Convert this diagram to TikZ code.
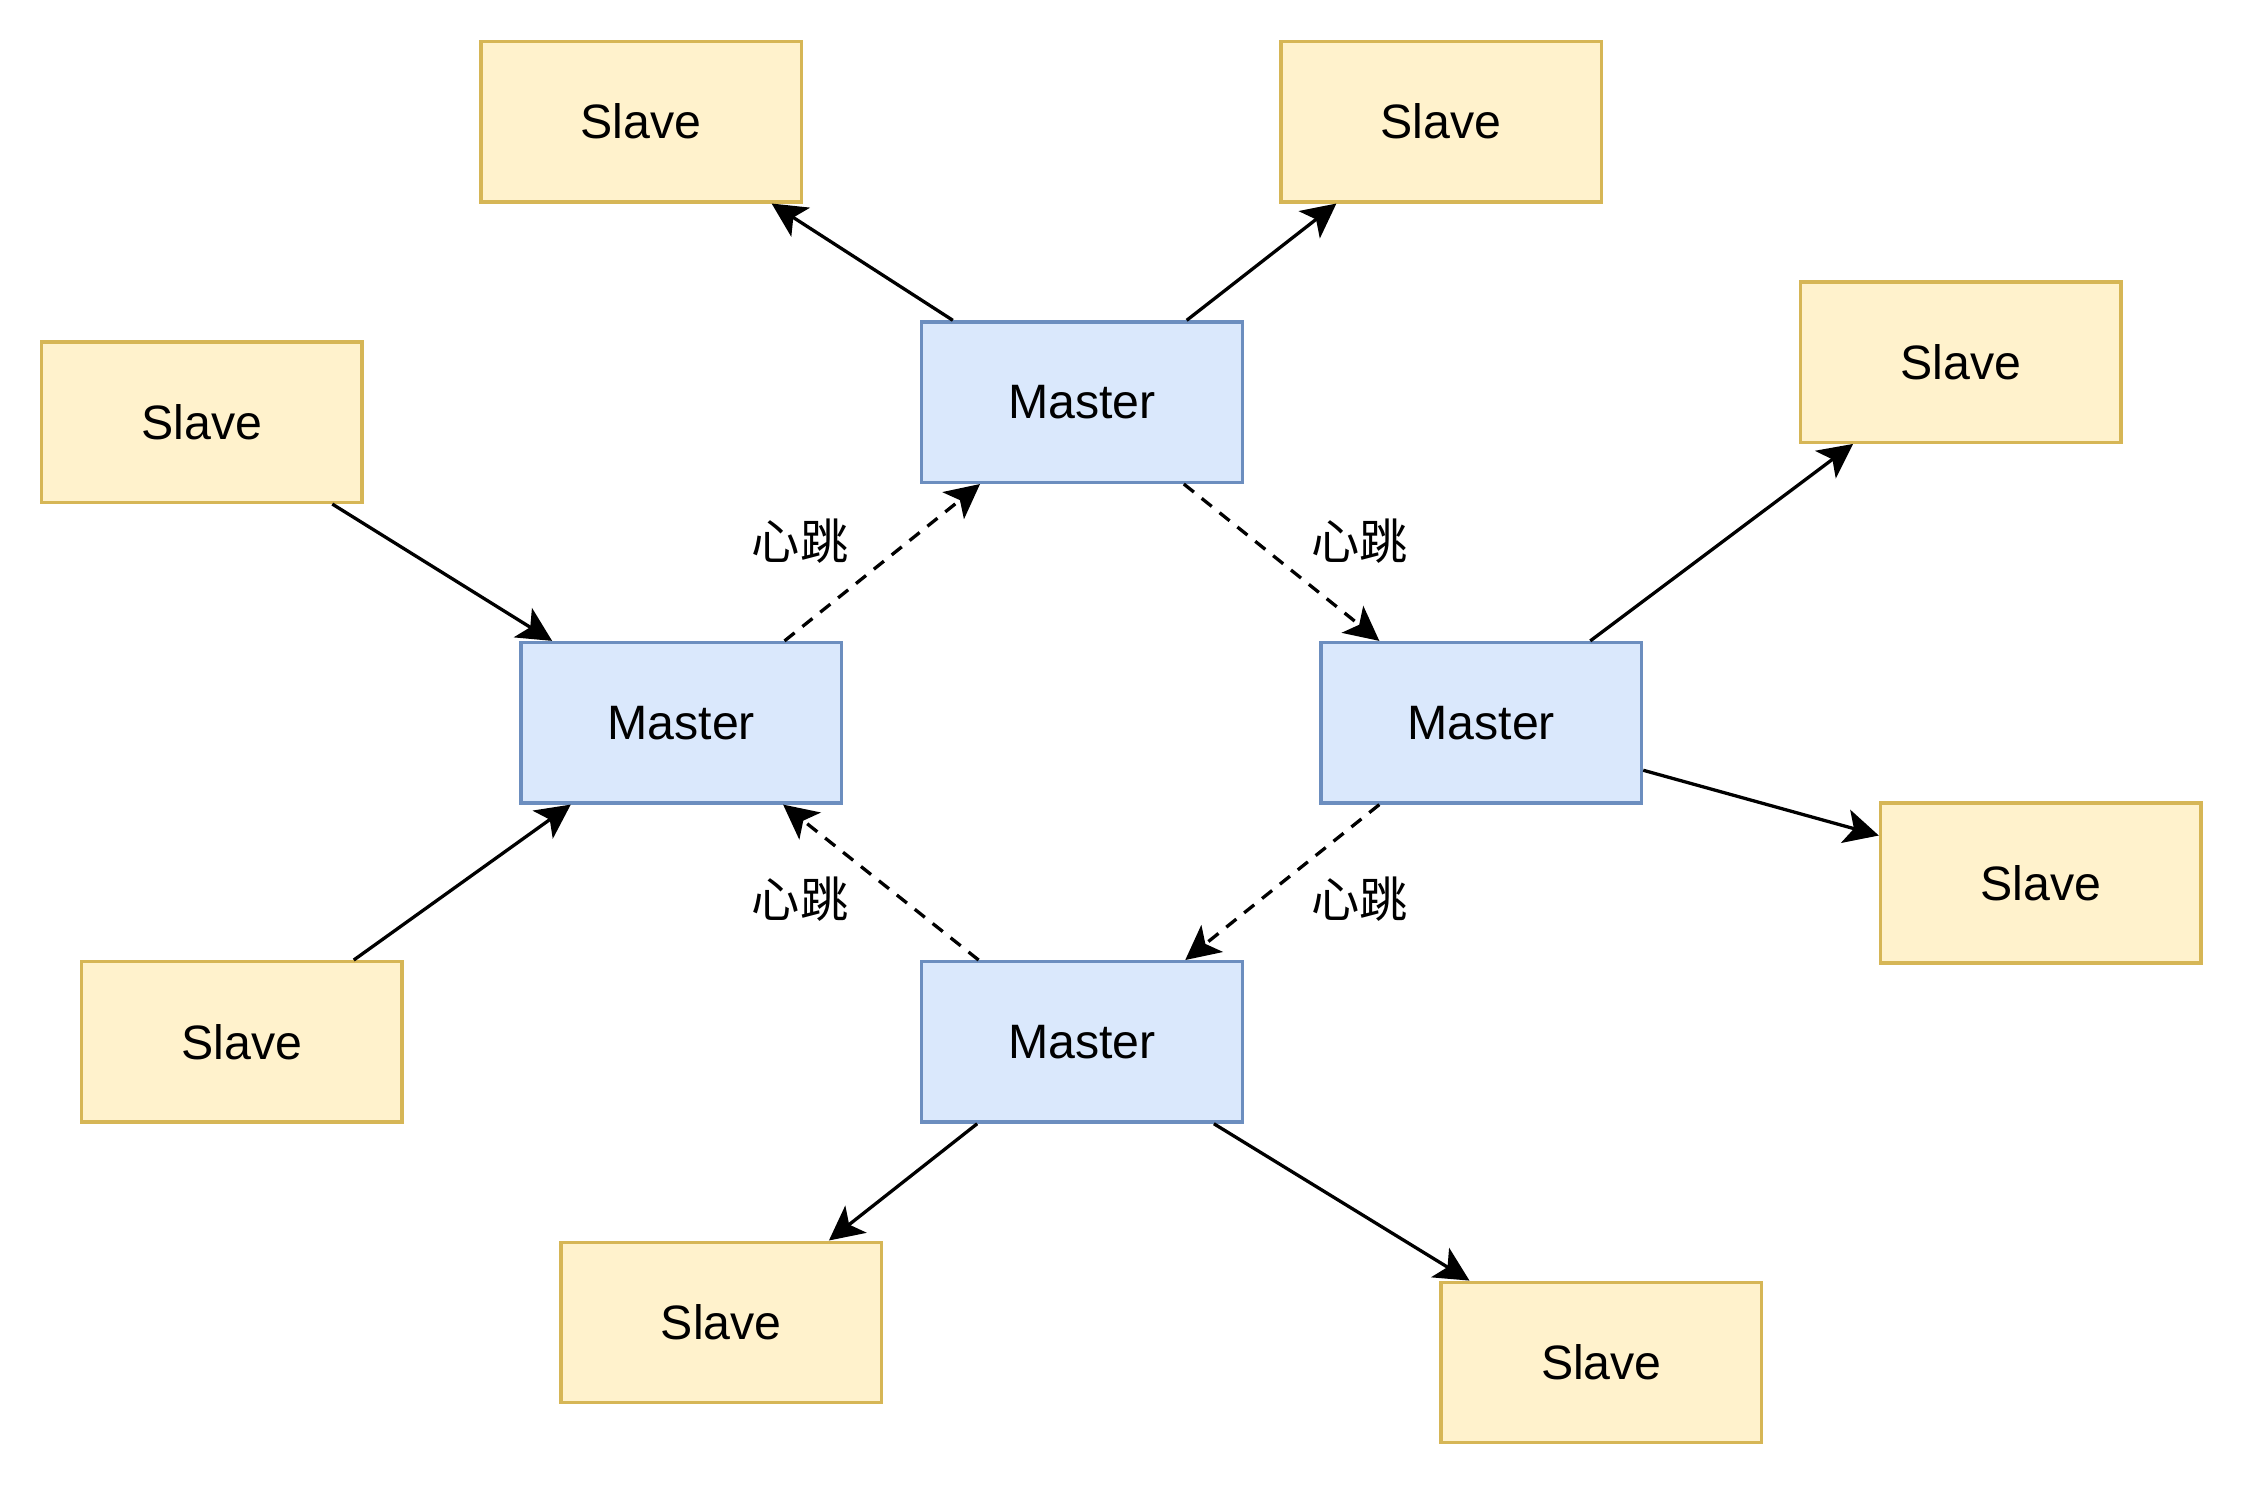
\documentclass[tikz,border=0pt]{standalone}
\usepackage{fontspec}
\setmainfont{Liberation Sans}
\newfontfamily\cjk{Noto Sans CJK SC}
\usetikzlibrary{arrows.meta,positioning}

\begin{document}
\begin{tikzpicture}[x=0.1mm, y=-0.1mm, font=\fontsize{9.6}{11}\selectfont,
  every text node part/.style={align=center}]

\definecolor{slavefill}{HTML}{FFF2CC}
\definecolor{slavedraw}{HTML}{D6B656}
\definecolor{masterfill}{HTML}{DAE8FC}
\definecolor{masterdraw}{HTML}{6C8EBF}

\tikzset{
  slave/.style={draw=slavedraw, fill=slavefill, line width=0.24mm, minimum width=22.4mm, minimum height=11.2mm},
  master/.style={draw=masterdraw, fill=masterfill, line width=0.24mm, minimum width=22.4mm, minimum height=11.2mm},
  link/.style={line width=0.23mm, -{Stealth[length=2.4mm, width=2.4mm, inset=0.6mm]}},
  beat/.style={link, dash pattern=on 0.9mm off 0.7mm},
  beatlabel/.style={font=\fontsize{9.6}{11}\selectfont\cjk}
}

    \useasboundingbox (0,0) rectangle (1568,1037);

    %% masters
    \node[master] (mtop) at (756,281) {Master};
    \node[master] (mleft) at (476,505) {Master};
    \node[master] (mright) at (1035,505) {Master};
    \node[master] (mbottom) at (756,728) {Master};

    % slaves
    \node[slave] (stopl) at (448,85) {Slave};
    \node[slave] (stopr) at (1007,85) {Slave};
    \node[slave] (sleftt) at (141,295) {Slave};
    \node[slave] (sleftb) at (169,728) {Slave};
    \node[slave] (srightt) at (1370,253) {Slave};
    \node[slave] (srightb) at (1426,617) {Slave};
    \node[slave] (sbotl) at (504,924) {Slave};
    \node[slave] (sbotr) at (1119,952) {Slave};

    % replication
    \draw[link] ([xshift=2.3mm]mtop.north west) -- ([xshift=-2.2mm]stopl.south east);
    \draw[link] ([xshift=-4mm]mtop.north east) -- ([xshift=4mm]stopr.south west);
    \draw[link] ([xshift=-2.2mm]sleftt.south east) -- ([xshift=2.3mm]mleft.north west);
    \draw[link] ([xshift=-3.5mm]sleftb.north east) -- ([xshift=3.6mm]mleft.south west);
    \draw[link] ([xshift=-3.7mm]mright.north east) -- ([xshift=3.8mm]srightt.south west);
    \draw[link] ([yshift=2.4mm]mright.south east) -- ([yshift=-2.4mm]srightb.north west);
    \draw[link] ([xshift=4mm]mbottom.south west) -- ([xshift=-3.8mm]sbotl.north east);
    \draw[link] ([xshift=-2.1mm]mbottom.south east) -- ([xshift=2.1mm]sbotr.north west);

    % heartbeat
    \draw[beat] ([xshift=-4.1mm]mleft.north east) -- ([xshift=4.2mm]mtop.south west);
    \draw[beat] ([xshift=-4.2mm]mtop.south east) -- ([xshift=4.2mm]mright.north west);
    \draw[beat] ([xshift=4.2mm]mright.south west) -- ([xshift=-4.1mm]mbottom.north east);
    \draw[beat] ([xshift=4.1mm]mbottom.north west) -- ([xshift=-4.2mm]mleft.south east);

    \node[beatlabel] (beat1) at (559,378) {心跳};
    \node[beatlabel] (beat2) at (950,378) {心跳};
    \node[beatlabel] (beat3) at (559,628) {心跳};
    \node[beatlabel] (beat4) at (950,628) {心跳};
  \end{tikzpicture}
\end{document}
